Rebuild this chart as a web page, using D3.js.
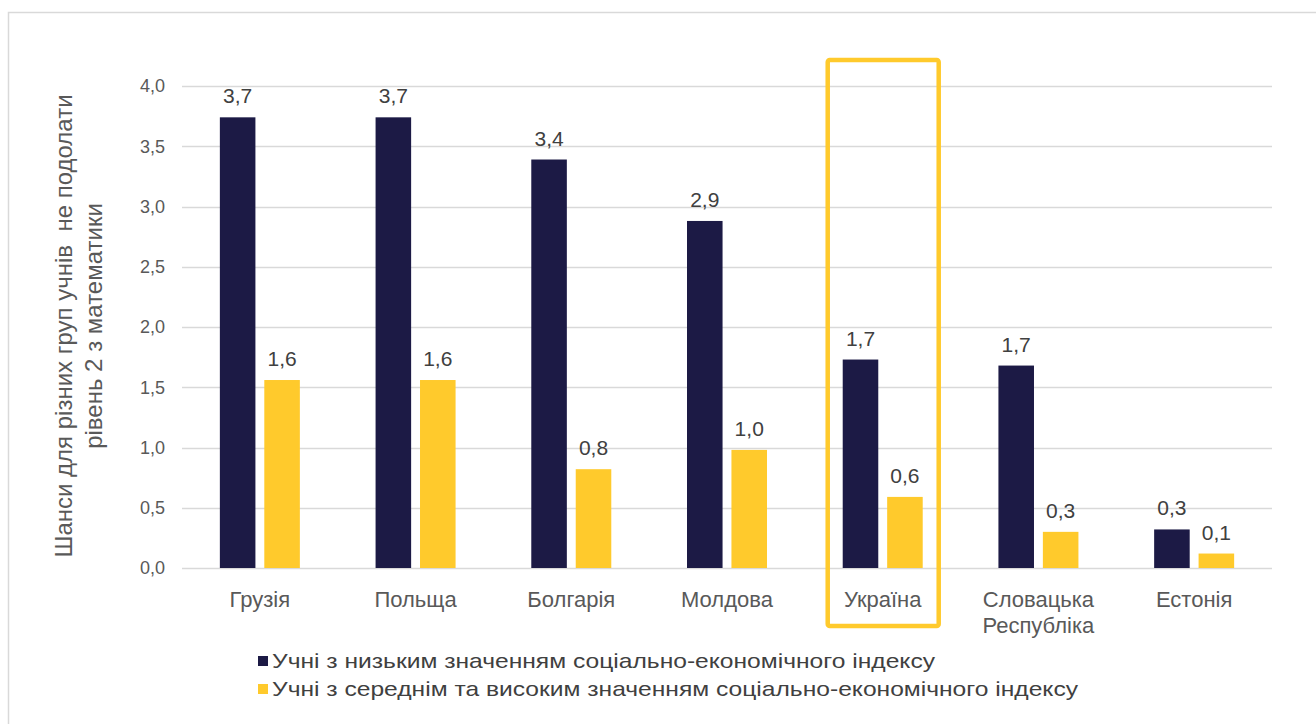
<!DOCTYPE html>
<html>
<head>
<meta charset="utf-8">
<script src="https://cdn.jsdelivr.net/npm/d3@7"></script>
<style>
  body { margin: 0; background: #fff; }
  svg { display: block; font-family: "Liberation Sans", Arial, sans-serif; }
</style>
</head>
<body>
<div id="chart"></div>
<script>
var navy = '#1c1a45',
    gold = '#ffca2c';

// data
var countries = ['Грузія', 'Польща', 'Болгарія', 'Молдова', 'Україна', 'Словацька Республіка', 'Естонія'];
var lowSES = [3.74, 3.74, 3.39, 2.88, 1.73, 1.68, 0.32];
var midHighSES = [1.56, 1.56, 0.82, 0.98, 0.59, 0.30, 0.12];
var seriesNames = ['Учні з низьким значенням соціально-економічного індексу',
                   'Учні з середнім та високим значенням соціально-економічного індексу'];
var yTicks = [0, 0.5, 1, 1.5, 2, 2.5, 3, 3.5, 4];
var highlighted = 'Україна';

var W = 1316, H = 724;
var margin = { top: 86, right: 44, bottom: 156, left: 182 };
var width = W - margin.left - margin.right,
    height = H - margin.top - margin.bottom;

var fmt = function(v) { return d3.format('.1f')(v).replace('.', ','); };

var svg = d3.select('#chart').append('svg')
    .attr('width', W)
    .attr('height', H);

// outer frame
svg.append('rect')
    .attr('x', 8.5).attr('y', 12.5)
    .attr('width', W + 20).attr('height', H + 20)
    .attr('fill', 'none')
    .attr('stroke', '#d9d9d9')
    .attr('stroke-width', 1.5);

var g = svg.append('g')
    .attr('transform', 'translate(' + margin.left + ',' + margin.top + ')');

var x0 = d3.scaleBand().domain(countries).range([0, width]);
var x1 = d3.scaleBand().domain([0, 1]).range([x0.bandwidth() / 2 - 40, x0.bandwidth() / 2 + 40]).paddingInner(0.2);
var y = d3.scaleLinear().domain([0, 4]).range([height, 0]);

// gridlines
g.selectAll('.grid').data(yTicks).enter().append('line')
    .attr('x1', 0).attr('x2', width)
    .attr('y1', function(d) { return Math.round(y(d)) + 0.5; })
    .attr('y2', function(d) { return Math.round(y(d)) + 0.5; })
    .attr('stroke', '#d9d9d9')
    .attr('stroke-width', 1.5);

// y axis labels
var yAxis = d3.axisLeft(y).tickValues(yTicks).tickFormat(fmt).tickSize(0).tickPadding(17);
var ya = g.append('g').call(yAxis);
ya.select('.domain').remove();
ya.selectAll('text')
    .attr('fill', '#595959')
    .style('font-size', '18px')
    .style('font-family', '"Liberation Sans", Arial, sans-serif');

// bars
var groups = g.selectAll('.grp').data(countries).enter().append('g')
    .attr('transform', function(d) { return 'translate(' + x0(d) + ',0)'; });

[lowSES, midHighSES].forEach(function(vals, s) {
    groups.append('rect')
        .attr('x', x1(s))
        .attr('width', x1.bandwidth())
        .attr('y', function(d, i) { return y(vals[i]); })
        .attr('height', function(d, i) { return height - y(vals[i]); })
        .attr('fill', s === 0 ? navy : gold);

    groups.append('text')
        .attr('x', x1(s) + x1.bandwidth() / 2)
        .attr('y', function(d, i) { return y(vals[i]) - 14; })
        .attr('text-anchor', 'middle')
        .attr('fill', '#404040')
        .style('font-size', '21px')
        .text(function(d, i) { return fmt(vals[i]); });
});

// x axis category labels
var xl = g.selectAll('.xl').data(countries).enter().append('text')
    .attr('x', function(d) { return x0(d) + x0.bandwidth() / 2; })
    .attr('y', height + 39)
    .attr('text-anchor', 'middle')
    .attr('fill', '#595959')
    .style('font-size', '22px');
xl.each(function(d) {
    var words = d.split(' ');
    var t = d3.select(this);
    words.forEach(function(w, k) {
        t.append('tspan')
            .attr('x', x0(d) + x0.bandwidth() / 2)
            .attr('dy', k === 0 ? 0 : 26)
            .text(w);
    });
});

// highlight box around Ukraine
var hx = x0(highlighted) + x0.bandwidth() / 2;
g.append('rect')
    .attr('x', hx - 55)
    .attr('y', 60 - margin.top)
    .attr('width', 111)
    .attr('height', 566)
    .attr('rx', 2)
    .attr('fill', 'none')
    .attr('stroke', gold)
    .attr('stroke-width', 4.5);

// y axis title
var yt = svg.append('text')
    .attr('transform', 'translate(72,' + 326 + ') rotate(-90)')
    .attr('text-anchor', 'middle')
    .attr('fill', '#595959')
    .style('font-size', '24px')
    .style('white-space', 'pre');
yt.append('tspan').attr('x', 0).attr('dy', 0).text('Шанси для різних груп учнів  не подолати');
yt.append('tspan').attr('x', 0).attr('dy', 30).text('рівень 2 з математики');

// legend
var leg = svg.append('g').attr('transform', 'translate(258,668)');
var legLen = [663, 806];
seriesNames.forEach(function(name, s) {
    var row = leg.append('g').attr('transform', 'translate(0,' + (s * 28) + ')');
    row.append('rect')
        .attr('x', 0).attr('y', -12)
        .attr('width', 10).attr('height', 10)
        .attr('fill', s === 0 ? navy : gold);
    row.append('text')
        .attr('x', 14).attr('y', 0)
        .attr('fill', '#404040')
        .style('font-size', '21px')
        .attr('textLength', legLen[s])
        .attr('lengthAdjust', 'spacingAndGlyphs')
        .text(name);
});
</script>
</body>
</html>
